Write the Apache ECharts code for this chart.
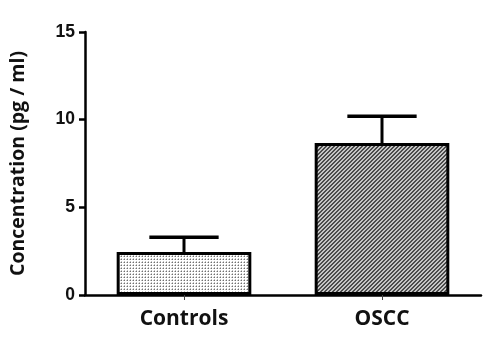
<!DOCTYPE html>
<html>
<head>
<meta charset="utf-8">
<script src="https://cdn.jsdelivr.net/npm/echarts@6/dist/echarts.min.js"></script>
<style>
html,body{margin:0;padding:0;background:#fff;}
#chart{width:486px;height:350px;}
</style>
</head>
<body>
<div id="chart"></div>
<script>
// Data
const categories = ['Controls', 'OSCC'];
const means = [2.45, 8.67];
const upperErrors = [3.3, 10.2];
const yTicks = [0, 5, 10, 15];

// Patterns
function dotPattern() {
  const c = document.createElement('canvas');
  c.width = 3; c.height = 3;
  const ctx = c.getContext('2d');
  ctx.fillStyle = '#ffffff';
  ctx.fillRect(0, 0, 3, 3);
  ctx.fillStyle = '#707070';
  ctx.fillRect(1, 1, 1, 1);
  ctx.fillStyle = '#c0c0c0';
  ctx.fillRect(0, 1, 1, 1);
  ctx.fillRect(1, 0, 1, 1);
  return c;
}
function stripePattern() {
  const s = 4;
  const c = document.createElement('canvas');
  c.width = s; c.height = s;
  const ctx = c.getContext('2d');
  ctx.fillStyle = '#c4c4c4';
  ctx.fillRect(0, 0, s, s);
  ctx.fillStyle = '#4a4a4a';
  for (let x = 0; x < s; x++) {
    const y = s - 1 - x;
    ctx.fillRect(x, y, 1, 1);
    ctx.fillRect((x + 1) % s, y, 1, 1);
  }
  return c;
}
const patterns = [dotPattern(), stripePattern()];

const chart = echarts.init(document.getElementById('chart'), null, {renderer: 'canvas'});
chart.setOption({
  animation: false,
  backgroundColor: '#ffffff',
  grid: {left: 81, right: 5, top: 32, bottom: 55},
  xAxis: {
    type: 'category',
    data: categories,
    axisLine: {lineStyle: {color: '#000', width: 2.5}},
    axisTick: {show: true, alignWithLabel: true, length: 5, lineStyle: {color: '#444', width: 1}},
    axisLabel: {color: '#111', fontFamily: 'Open Sans', fontWeight: 'bold', fontSize: 21, margin: 14},
    splitLine: {show: false}
  },
  yAxis: {
    type: 'value',
    min: 0, max: 15, interval: 5,
    name: 'Concentration (pg / ml)',
    nameLocation: 'middle',
    nameGap: 57,
    nameTextStyle: {color: '#111', fontFamily: 'Open Sans', fontWeight: 'bold', fontSize: 19.5},
    axisLine: {show: true, lineStyle: {color: '#000', width: 2.5}},
    axisTick: {show: true, length: 6, lineStyle: {color: '#000', width: 2.5}},
    axisLabel: {color: '#111', fontFamily: 'Liberation Sans', fontWeight: 'bold', fontSize: 17.5, margin: 10,
      formatter: v => (yTicks.indexOf(v) >= 0 ? String(v) : '')},
    splitLine: {show: false}
  },
  series: [
    {
      type: 'custom',
      z: 1,
      renderItem: function (params, api) {
        const idx = api.value(0);
        const top = api.coord([idx, api.value(2)]);
        const base = api.coord([idx, api.value(1)]);
        const half = api.size([1, 0])[0] * 0.175;
        return {
          type: 'group',
          children: [
            {type: 'line', shape: {x1: base[0], y1: base[1], x2: top[0], y2: top[1]}, style: {stroke: '#000', lineWidth: 3}},
            {type: 'line', shape: {x1: top[0] - half, y1: top[1], x2: top[0] + half, y2: top[1]}, style: {stroke: '#000', lineWidth: 3.5}}
          ]
        };
      },
      data: categories.map((c, i) => [i, means[i], upperErrors[i]])
    },
    {
      type: 'bar',
      z: 2,
      barWidth: '68%',
      data: means.map((v, i) => ({
        value: v,
        itemStyle: {color: {image: patterns[i], repeat: 'repeat'}, borderColor: '#000', borderWidth: 3}
      }))
    }
  ]
});
</script>
</body>
</html>
